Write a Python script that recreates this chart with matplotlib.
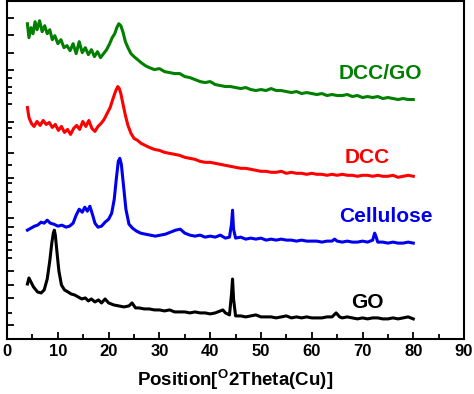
import matplotlib
matplotlib.use("Agg")
import matplotlib.pyplot as plt
from matplotlib.ticker import MultipleLocator, FixedLocator

plt.rcParams['font.family'] = ['Liberation Sans', 'DejaVu Sans']
plt.rcParams['mathtext.fontset'] = 'custom'
plt.rcParams['mathtext.bf'] = 'Liberation Sans:bold'

# XRD patterns, 2theta (deg) vs stacked intensity (a.u.)
go_x = [4, 4.3, 4.7, 5.2, 6, 6.7, 7.3, 7.9, 8.4, 8.8,
        9.1, 9.3, 9.5, 9.8, 10.2, 10.7, 11.3, 12, 12.6, 13.3,
        14, 14.7, 15.4, 16, 16.6, 17.3, 18, 18.6, 19.3, 20,
        21, 22, 23, 24, 24.6, 25.3, 26, 27, 28, 29,
        30, 31, 32, 33, 34, 35, 36, 37, 38, 39,
        40, 41, 42, 42.5, 43, 43.8, 44.2, 44.4, 44.6, 45,
        46, 47, 48, 49, 50, 51, 52, 53, 54, 55,
        56, 57, 58, 59, 60, 61, 62, 63, 64, 64.8,
        65.5, 66, 67, 68, 69, 70, 71, 72, 73, 74,
        75, 76, 77, 78, 79, 80]
go_y = [55, 61, 57, 52, 47, 46, 49, 60, 78, 96,
        106, 109, 104, 88, 68, 54, 49, 47, 45, 44,
        42, 40, 41, 38, 40, 37, 39, 36, 40, 36,
        34, 33, 32, 33, 36, 31, 31, 30, 30, 29,
        29, 28, 29, 27, 27, 27, 26, 27, 26, 26,
        25, 26, 28, 29, 26, 24, 45, 60, 40, 23,
        23, 22, 23, 24, 22, 22, 22, 21, 22, 23,
        21, 22, 21, 22, 21, 21, 21, 22, 22, 26,
        22, 21, 22, 21, 20, 21, 20, 21, 21, 20,
        20, 21, 20, 21, 22, 20]

cel_x = [4, 4.7, 5.4, 6, 6.7, 7.3, 7.9, 8.5, 9.2, 10,
         10.8, 11.6, 12.3, 13, 13.6, 14.2, 14.8, 15.3, 15.8, 16.3,
         16.8, 17.3, 17.9, 18.6, 19.3, 20, 20.6, 21.1, 21.5, 21.9,
         22.2, 22.5, 22.9, 23.4, 24, 24.7, 25.5, 26.3, 27.2, 28.2,
         29.2, 30.2, 31.2, 32.2, 33.2, 34.1, 35, 36, 37, 38,
         39, 40, 41, 42, 43, 43.8, 44.2, 44.4, 44.6, 45,
         46, 47, 48, 49, 50, 51, 52, 53, 54, 55,
         56, 57, 58, 59, 60, 61, 62, 63, 64, 64.5,
         65, 66, 67, 68, 69, 70, 71, 72, 72.4, 72.7,
         73, 74, 75, 76, 77, 78, 79, 80]
cel_y = [109, 111, 113, 114, 117, 116, 119, 116, 115, 113,
         114, 112, 113, 116, 124, 130, 127, 132, 128, 133,
         125, 116, 112, 113, 117, 120, 126, 140, 160, 178,
         181, 175, 155, 130, 115, 111, 108, 106, 105, 104,
         103, 104, 105, 107, 109, 110, 106, 104, 103, 104,
         102, 103, 102, 104, 101, 102, 115, 129, 110, 101,
         102, 100, 101, 100, 101, 99, 100, 99, 100, 99,
         99, 98, 99, 98, 98, 98, 97, 98, 98, 100,
         98, 97, 98, 97, 97, 98, 97, 99, 106, 102,
         97, 97, 96, 97, 96, 96, 97, 96]

dcc_x = [4, 4.3, 4.8, 5.3, 5.9, 6.5, 7.1, 7.7, 8.3, 8.9,
         9.5, 10.1, 10.7, 11.3, 11.9, 12.5, 13.1, 13.7, 14.3, 14.9,
         15.5, 16.1, 16.7, 17.3, 17.9, 18.5, 19.1, 19.7, 20.3, 20.8,
         21.2, 21.5, 21.8, 22.1, 22.4, 22.8, 23.3, 23.8, 24.4, 25,
         25.7, 26.4, 27.2, 28, 29, 30, 31, 32, 33, 34,
         35, 36, 37, 38, 39, 40, 41, 42, 43, 44,
         45, 46, 47, 48, 49, 50, 51, 52, 53, 54,
         55, 56, 57, 58, 59, 60, 61, 62, 63, 64,
         65, 66, 67, 68, 69, 70, 71, 72, 73, 74,
         75, 76, 77, 78, 79, 80]
dcc_y = [232, 222, 216, 213, 218, 214, 219, 215, 217, 212,
         215, 209, 213, 207, 210, 205, 211, 214, 210, 218,
         213, 219, 211, 208, 213, 216, 220, 226, 232, 240,
         246, 250, 253, 251, 246, 236, 224, 214, 206, 201,
         199, 196, 194, 192, 190, 189, 187, 186, 185, 184,
         182, 181, 180, 178, 177, 177, 176, 175, 174, 173,
         172, 171, 171, 170, 169, 168, 168, 167, 167, 168,
         166, 167, 166, 166, 165, 166, 165, 165, 164, 165,
         164, 165, 164, 164, 163, 164, 164, 163, 164, 163,
         163, 164, 162, 163, 164, 163]

dccgo_x = [4, 4.3, 4.7, 5.1, 5.5, 5.9, 6.4, 6.9, 7.4, 7.9,
           8.4, 8.9, 9.4, 10, 10.6, 11.2, 11.8, 12.4, 13, 13.6,
           14.2, 14.8, 15.4, 16, 16.6, 17.2, 17.8, 18.4, 19, 19.6,
           20.2, 20.7, 21.2, 21.6, 22, 22.4, 22.8, 23.3, 23.8, 24.4,
           25, 25.7, 26.4, 27.2, 28, 29, 30, 31, 32, 33,
           34, 35, 36, 37, 38, 39, 40, 41, 42, 43,
           44, 45, 46, 47, 48, 49, 50, 51, 52, 53,
           54, 55, 56, 57, 58, 59, 60, 61, 62, 63,
           64, 65, 66, 67, 68, 69, 70, 71, 72, 73,
           74, 75, 76, 77, 78, 79, 80]
dccgo_y = [316, 302, 312, 306, 318, 310, 319, 308, 314, 306,
           310, 300, 304, 296, 300, 292, 294, 289, 296, 286,
           298, 287, 292, 285, 290, 283, 288, 282, 286, 290,
           296, 302, 306, 312, 316, 314, 308, 298, 292, 286,
           283, 280, 277, 274, 272, 270, 271, 268, 267, 266,
           266, 263, 262, 260, 258, 257, 258, 255, 254, 253,
           253, 252, 251, 252, 250, 249, 250, 249, 251, 249,
           249, 248, 247, 248, 246, 247, 246, 245, 246, 244,
           245, 244, 244, 245, 243, 244, 242, 243, 242, 243,
           241, 242, 241, 240, 241, 240, 240]

# tick positions on the (unlabelled) intensity axis
y_major = [322, 305, 287, 270, 217, 186, 161, 121, 112, 68, 54, 41, 14]
y_minor = [262, 253, 247, 235, 211, 202, 174, 156, 147, 137, 104, 97, 89, 81, 26]

fig = plt.figure(figsize=(4.74, 3.94), dpi=100)
ax = fig.add_axes([0.015, 0.14, 0.964, 0.858])

ax.plot(go_x, go_y, color='black', lw=2.2)
ax.plot(cel_x, cel_y, color='#0000ee', lw=2.2)
ax.plot(dcc_x, dcc_y, color='#ff0000', lw=2.2)
ax.plot(dccgo_x, dccgo_y, color='#007f00', lw=2.2)

lab = dict(fontsize=15, fontweight='bold', ha='center', va='center')
ax.text(73.5, 266, 'DCC/GO', color='#007f00', **lab)
ax.text(71.0, 182, 'DCC', color='#ff0000', **lab)
ax.text(74.7, 123, 'Cellulose', color='#0000ee', **lab)
ax.text(71.0, 36, 'GO', color='black', **lab)

ax.set_xlim(0, 90)
ax.set_ylim(0, 339)
ax.xaxis.set_major_locator(MultipleLocator(10))
ax.xaxis.set_minor_locator(MultipleLocator(5))
ax.yaxis.set_major_locator(FixedLocator(y_major))
ax.yaxis.set_minor_locator(FixedLocator(y_minor))
ax.set_yticklabels([])
ax.tick_params(which='both', direction='in', width=1.3, top=False, right=False)
ax.tick_params(which='major', length=5)
ax.tick_params(which='minor', length=3.5)
ax.tick_params(axis='x', labelsize=12, pad=4)
for t in ax.get_xticklabels():
    t.set_fontweight('bold')
for s in ax.spines.values():
    s.set_linewidth(1.5)

fig.text(0.495, 1 - 380 / 394, r'Position[$^{\mathbf{O}}$2Theta(Cu)]',
         fontsize=13.5, fontweight='bold', ha='center', va='center')

fig.savefig('out.png', dpi=100)
